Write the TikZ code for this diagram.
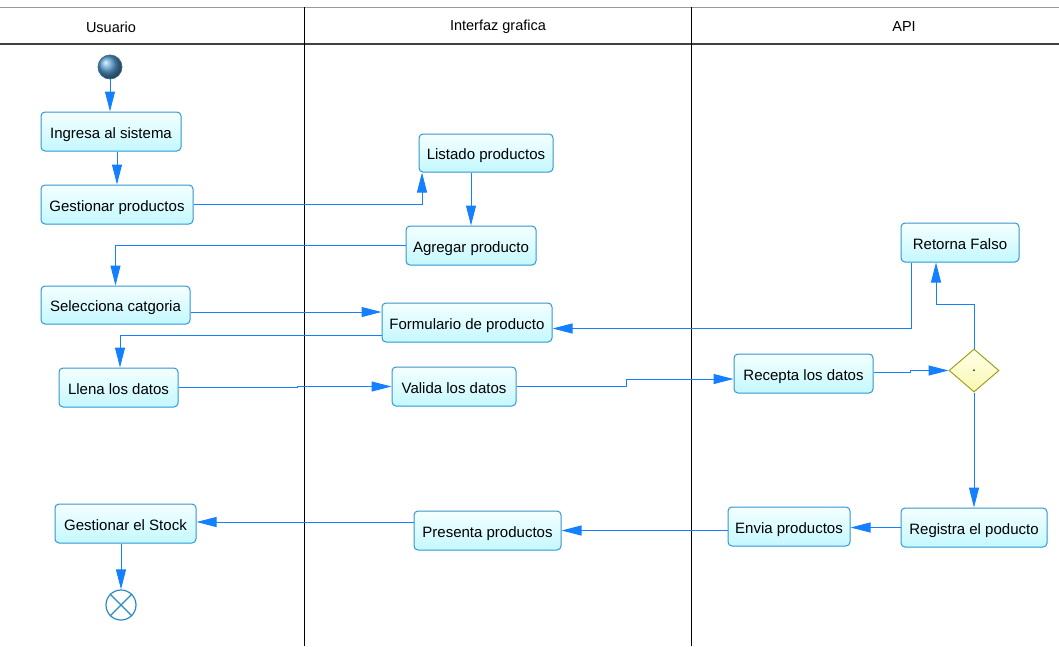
\documentclass[tikz,border=0pt]{standalone}
\usepackage{fontspec}
\setmainfont{Liberation Sans}
\usetikzlibrary{arrows.meta,shapes.geometric,calc}
\definecolor{flow}{RGB}{20,128,255}
\definecolor{boxline}{RGB}{50,150,210}
\definecolor{boxtop}{RGB}{245,255,255}
\definecolor{boxbot}{RGB}{195,248,255}
\definecolor{decline}{RGB}{160,160,30}
\definecolor{dectop}{RGB}{255,255,235}
\definecolor{decbot}{RGB}{250,248,175}
\definecolor{startball}{RGB}{85,155,205}
\definecolor{endline}{RGB}{40,140,195}
\begin{document}
\begin{tikzpicture}[x=1pt,y=-1pt,
  every node/.style={font=\fontsize{15}{18}\selectfont},
  act/.style={rectangle, rounded corners=4pt, draw=boxline, line width=1pt,
    top color=boxtop, bottom color=boxbot, inner sep=0pt, align=center,
    text height=13pt, text depth=0pt},
  decision/.style={diamond, draw=decline, line width=1pt, top color=dectop,
    bottom color=decbot, inner sep=0pt, minimum width=50pt, minimum height=43pt,
    font=\fontsize{14}{16}\selectfont},
  flowline/.style={draw=flow, line width=1pt, -{Triangle[length=20pt,width=10pt]}},
  lane/.style={draw=black, line width=0.8pt},
  lanehead/.style={font=\fontsize{14.5}{17}\selectfont}]

\useasboundingbox (0,0) rectangle (1059,646);

% swimlane frame
\draw[draw=gray!80, line width=1pt] (0,7) -- (1059,7);
\draw[draw=black!75, line width=1.5pt] (0,44) -- (1059,44);
\draw[lane] (304,7) -- (304,646);
\draw[lane] (691,7) -- (691,646);
\node[lanehead] (hUsuario) at (111,27) {Usuario};
\node[lanehead] (hInterfaz) at (498,27) {Interfaz grafica};
\node[lanehead] (hApi) at (904,27) {API};

% initial and final states
\node[circle, draw=startball!70!black, line width=0.8pt, ball color=startball,
  minimum size=24pt, inner sep=0pt] (start) at (110,67) {};
\node[circle, draw=endline, line width=1.2pt, fill=white, minimum size=30pt,
  inner sep=0pt] (end) at (121,605) {};
\draw[draw=endline, line width=1.2pt] (end.north west) -- (end.south east)
  (end.north east) -- (end.south west);

% activities
\node[act, minimum width=140pt, minimum height=39pt] (ingresa) at (111,131.5) {Ingresa al sistema};
\node[act, minimum width=152pt, minimum height=39pt] (gestionar) at (117,204.5) {Gestionar productos};
\node[act, minimum width=134pt, minimum height=38pt] (listado) at (486,153) {Listado productos};
\node[act, minimum width=130pt, minimum height=39pt] (agregar) at (471,245.5) {Agregar producto};
\node[act, minimum width=149pt, minimum height=38pt] (selecciona) at (115.5,305) {Selecciona catgoria};
\node[act, minimum width=170pt, minimum height=39pt] (formulario) at (467,322.5) {Formulario de producto};
\node[act, minimum width=119pt, minimum height=39pt] (llena) at (118.5,387.5) {Llena los datos};
\node[act, minimum width=124pt, minimum height=39pt] (valida) at (454,386.5) {Valida los datos};
\node[act, minimum width=139pt, minimum height=39pt] (recepta) at (803.5,373.5) {Recepta los datos};
\node[act, minimum width=118pt, minimum height=39pt] (retorna) at (960,242.5) {Retorna Falso};
\node[decision] (check) at (974,370.5) {.};
\node[act, minimum width=146pt, minimum height=39pt] (registra) at (974,527.5) {Registra el poducto};
\node[act, minimum width=122pt, minimum height=39pt] (envia) at (789,526.5) {Envia productos};
\node[act, minimum width=147pt, minimum height=39pt] (presenta) at (487.5,530.5) {Presenta productos};
\node[act, minimum width=141pt, minimum height=39pt] (stock) at (125.5,523.5) {Gestionar el Stock};

% control flow
\draw[flowline] (start) -- (start |- ingresa.north);
\draw[flowline] (ingresa.south -| gestionar.north) -- (gestionar.north);
\draw[flowline] (gestionar.east) -| ([xshift=-64pt]listado.south);
\draw[flowline] (listado.south -| agregar.north) -- (agregar.north);
\draw[flowline] (agregar.west) -| (selecciona.north);
\draw[flowline] ([yshift=-7pt]selecciona.east) -- ([yshift=-7pt]selecciona.east -| formulario.west);
\draw[flowline] ([yshift=-13pt]formulario.west) -| ([xshift=1.5pt]llena.north);
\draw[flowline] (llena.east) -- ([xshift=119pt]llena.east) |- (valida.west);
\draw[flowline] (valida.east) -- ([xshift=110pt]valida.east) |- ([yshift=-5.5pt]recepta.west);
\draw[flowline] ([yshift=1.5pt]recepta.east) -- ([xshift=37pt,yshift=1.5pt]recepta.east) |- (check.west);
\draw[flowline] (check.north) -- ([yshift=44pt]check.north) -| ([xshift=-24pt]retorna.south);
\draw[flowline] ([xshift=-49pt]retorna.south) |- ([yshift=-6pt]formulario.east);
\draw[flowline] (check.south) -- (registra.north);
\draw[flowline] (registra.west) -- (registra.west -| envia.east);
\draw[flowline] (presenta.east -| envia.west) -- (presenta.east);
\draw[flowline] ([yshift=1.5pt]stock.east -| presenta.west) -- ([yshift=1.5pt]stock.east);
\draw[flowline] (stock.south -| end.north) -- (end.north);

\end{tikzpicture}
\end{document}
